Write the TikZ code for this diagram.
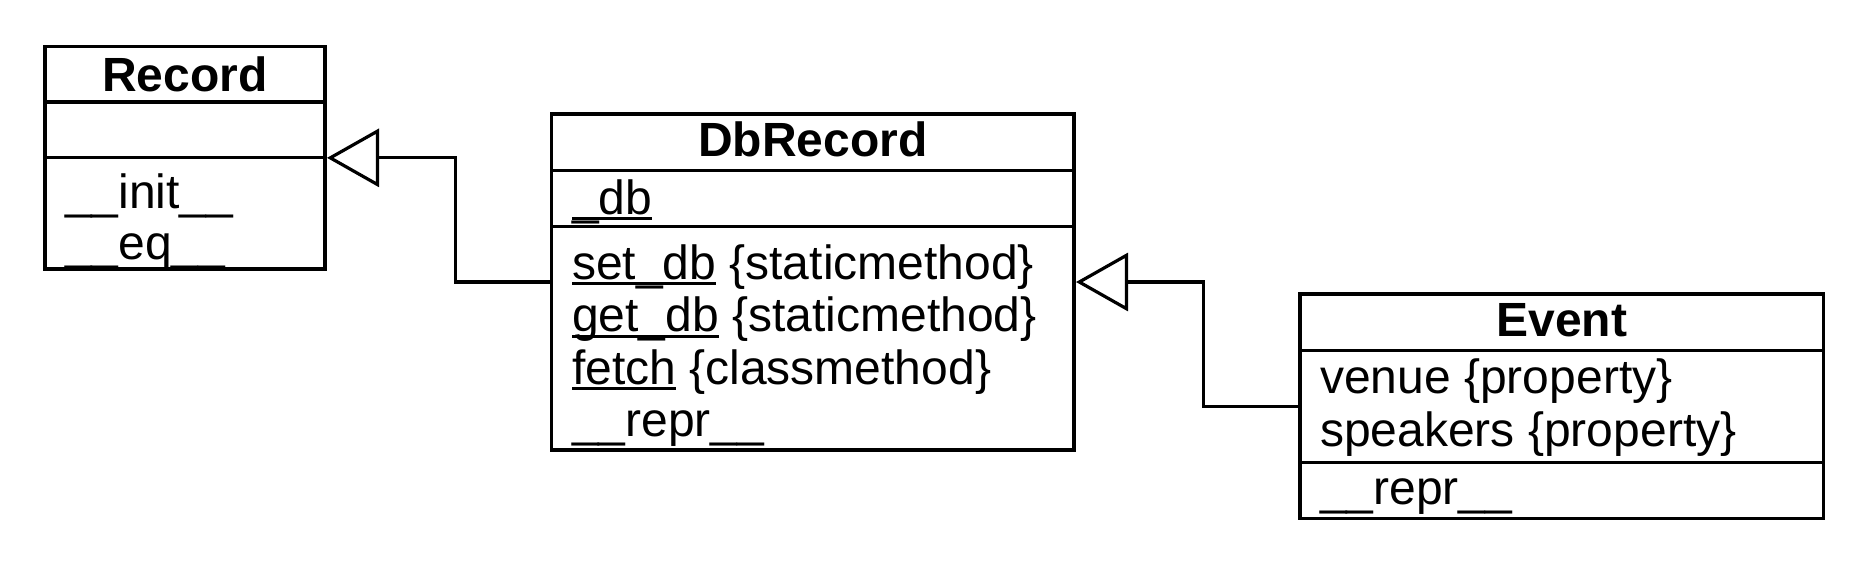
\documentclass[tikz,border=0pt]{standalone}
\usepackage{fontspec}
\setmainfont{Liberation Sans}
\usetikzlibrary{arrows.meta}
\newlength\ulwd
\newcommand\ulin[1]{\settowidth\ulwd{#1}\rlap{\rule[-6pt]{\ulwd}{2.7pt}}#1}
\tikzset{
  classbox/.style={draw, line width=3.2pt, rectangle, inner sep=0pt, outer sep=0pt, anchor=north west},
  divider/.style={line width=3.2pt},
  member/.style={anchor=base west, inner sep=0pt, font=\fontsize{48}{53}\selectfont},
  title/.style={anchor=base, inner sep=0pt, font=\fontsize{48}{53}\selectfont\bfseries},
  inherit/.style={line width=3.2pt, -{Triangle[open, length=52pt, width=58pt, line width=3.2pt]}, shorten >=2pt}
}
\begin{document}
\begin{tikzpicture}[x=1pt, y=-1pt]
\useasboundingbox (0,0) rectangle (1870,562);
% Record
\node[classbox, minimum width=280pt, minimum height=222.3pt] (record) at (45,46.7) {};
\draw[divider] (record.west |- 0,102) -- (record.east |- 0,102);
\draw[divider] (record.west |- 0,157.7) -- (record.east |- 0,157.7);
\node[title] (recordt) at (185,91.7) {Record};
\node[member] (recordm1) at (65,208) {\_\_init\_\_};
\node[member] (recordm2) at (65,259) {\_\_eq\_\_};
% DbRecord
\node[classbox, minimum width=522.3pt, minimum height=336pt] (dbrecord) at (551.7,114) {};
\draw[divider] (dbrecord.west |- 0,170.7) -- (dbrecord.east |- 0,170.7);
\draw[divider] (dbrecord.west |- 0,226.7) -- (dbrecord.east |- 0,226.7);
\node[title] (dbrecordt) at (812.8,156.7) {DbRecord};
\node[member] (dbrecorda1) at (572,214) {\ulin{\_db}};
\node[member] (dbrecordm1) at (572,279) {\ulin{set\_db} \{staticmethod\}};
\node[member] (dbrecordm2) at (572,331.5) {\ulin{get\_db} \{staticmethod\}};
\node[member] (dbrecordm3) at (572,384) {\ulin{fetch} \{classmethod\}};
\node[member] (dbrecordm4) at (572,436.5) {\_\_repr\_\_};
% Event
\node[classbox, minimum width=523.3pt, minimum height=224.3pt] (event) at (1300,294) {};
\draw[divider] (event.west |- 0,350.5) -- (event.east |- 0,350.5);
\draw[divider] (event.west |- 0,462.7) -- (event.east |- 0,462.7);
\node[title] (eventt) at (1561.7,336.7) {Event};
\node[member] (eventa1) at (1320,393) {venue \{property\}};
\node[member] (eventa2) at (1320,446) {speakers \{property\}};
\node[member] (eventm1) at (1320,504) {\_\_repr\_\_};
% generalisations
\coordinate (k1) at (455.6,0);
\coordinate (k2) at (1203.3,0);
\draw[inherit] (dbrecord.west) -| (k1 |- record.east) -- (record.east);
\draw[inherit] (event.west) -| (k2 |- dbrecord.east) -- (dbrecord.east);
\end{tikzpicture}
\end{document}
